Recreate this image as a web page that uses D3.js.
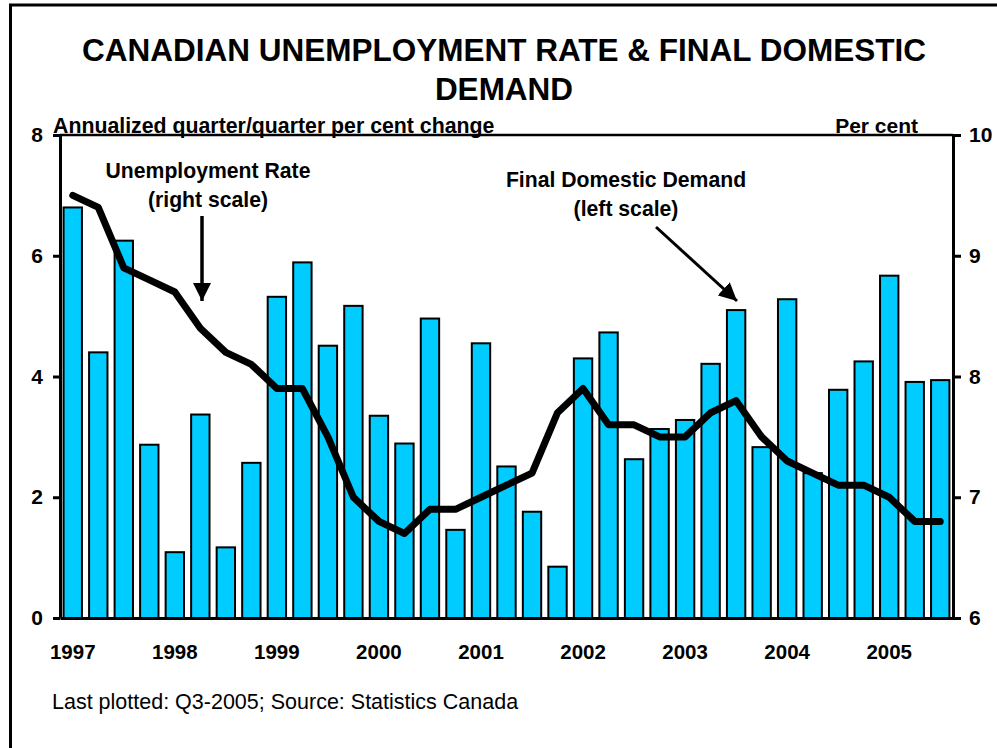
<!DOCTYPE html>
<html>
<head>
<meta charset="utf-8">
<script src="https://cdn.jsdelivr.net/npm/d3@7"></script>
<style>
  body { margin: 0; background: #fff; }
  svg { display: block; font-family: "Liberation Sans", Arial, sans-serif; }
</style>
</head>
<body>
<svg id="chart" width="997" height="748"></svg>
<script>
// Quarterly categories, Q1-1997 to Q3-2005
const quarters = [
  "1997 Q1","1997 Q2","1997 Q3","1997 Q4",
  "1998 Q1","1998 Q2","1998 Q3","1998 Q4",
  "1999 Q1","1999 Q2","1999 Q3","1999 Q4",
  "2000 Q1","2000 Q2","2000 Q3","2000 Q4",
  "2001 Q1","2001 Q2","2001 Q3","2001 Q4",
  "2002 Q1","2002 Q2","2002 Q3","2002 Q4",
  "2003 Q1","2003 Q2","2003 Q3","2003 Q4",
  "2004 Q1","2004 Q2","2004 Q3","2004 Q4",
  "2005 Q1","2005 Q2","2005 Q3"
];

// Final domestic demand, annualized q/q % change (left scale)
const domesticDemand = [
  6.80, 4.40, 6.25, 2.87,
  1.09, 3.37, 1.17, 2.57,
  5.32, 5.89, 4.51, 5.17,
  3.35, 2.89, 4.96, 1.46,
  4.55, 2.51, 1.76, 0.85,
  4.30, 4.73, 2.63, 3.13,
  3.28, 4.21, 5.10, 2.83,
  5.28, 2.40, 3.78, 4.25,
  5.67, 3.91, 3.94
];

// Unemployment rate, per cent (right scale)
const unemploymentRate = [
  9.5, 9.4, 8.9, 8.8,
  8.7, 8.4, 8.2, 8.1,
  7.9, 7.9, 7.5, 7.0,
  6.8, 6.7, 6.9, 6.9,
  7.0, 7.1, 7.2, 7.7,
  7.9, 7.6, 7.6, 7.5,
  7.5, 7.7, 7.8, 7.5,
  7.3, 7.2, 7.1, 7.1,
  7.0, 6.8, 6.8
];

const yearLabels = ["1997","1998","1999","2000","2001","2002","2003","2004","2005"];
const leftTicks = [0, 2, 4, 6, 8];
const rightTicks = [6, 7, 8, 9, 10];

const svg = d3.select("#chart");
const plot = { left: 60, right: 953, top: 135, bottom: 618 };

const x = d3.scaleBand()
  .domain(quarters)
  .range([plot.left, plot.right])
  .paddingInner(0.28)
  .paddingOuter(0.14);

const yLeft = d3.scaleLinear().domain([0, 8]).range([plot.bottom, plot.top]);
const yRight = d3.scaleLinear().domain([6, 10]).range([plot.bottom, plot.top]);

// Outer frame
svg.append("rect")
  .attr("x", 10.5).attr("y", 5)
  .attr("width", 1000).attr("height", 760)
  .attr("fill", "none").attr("stroke", "#000").attr("stroke-width", 3);

// Title
const title = svg.append("text")
  .attr("text-anchor", "middle")
  .attr("font-weight", "bold")
  .attr("font-size", 31.5);
title.append("tspan").attr("x", 504).attr("y", 61).text("CANADIAN UNEMPLOYMENT RATE & FINAL DOMESTIC");
title.append("tspan").attr("x", 504).attr("y", 100).text("DEMAND");

// Axis captions
svg.append("text")
  .attr("x", 53).attr("y", 133)
  .attr("font-weight", "bold").attr("font-size", 21.3)
  .text("Annualized quarter/quarter per cent change");
svg.append("text")
  .attr("x", 918).attr("y", 133)
  .attr("text-anchor", "end")
  .attr("font-weight", "bold").attr("font-size", 21)
  .text("Per cent");

// Bars
svg.append("g")
  .selectAll("rect")
  .data(quarters)
  .join("rect")
  .attr("x", d => x(d))
  .attr("width", x.bandwidth())
  .attr("y", (d, i) => yLeft(domesticDemand[i]))
  .attr("height", (d, i) => yLeft(0) - yLeft(domesticDemand[i]))
  .attr("fill", "#00CCFF")
  .attr("stroke", "#000")
  .attr("stroke-width", 2);

// Unemployment line
const line = d3.line()
  .x((d, i) => x(quarters[i]) + x.bandwidth() / 2)
  .y(d => yRight(d));
svg.append("path")
  .datum(unemploymentRate)
  .attr("d", line)
  .attr("fill", "none")
  .attr("stroke", "#000")
  .attr("stroke-width", 7)
  .attr("stroke-linejoin", "round")
  .attr("stroke-linecap", "round");

// Top frame line of the plot area
svg.append("line")
  .attr("x1", plot.left).attr("x2", plot.right)
  .attr("y1", plot.top).attr("y2", plot.top)
  .attr("stroke", "#000").attr("stroke-width", 2.5);

function styleAxis(g) {
  g.select(".domain").attr("stroke", "#000").attr("stroke-width", 3);
  g.selectAll(".tick line").attr("stroke", "#000").attr("stroke-width", 3);
  g.selectAll(".tick text")
    .attr("fill", "#000")
    .attr("font-family", "Liberation Sans, Arial, sans-serif")
    .attr("font-weight", "bold")
    .attr("font-size", 21);
}

// Bottom axis (baseline only, year labels added below)
svg.append("g")
  .attr("transform", `translate(0,${plot.bottom})`)
  .call(d3.axisBottom(x).tickSize(0).tickSizeOuter(0).tickFormat(""))
  .call(styleAxis);

// Year labels under each first quarter
svg.append("g")
  .selectAll("text")
  .data(yearLabels)
  .join("text")
  .attr("x", d => x(d + " Q1") + x.bandwidth() / 2)
  .attr("y", 659)
  .attr("text-anchor", "middle")
  .attr("font-weight", "bold")
  .attr("font-size", 20.5)
  .text(d => d);

// Left axis
svg.append("g")
  .attr("transform", `translate(${plot.left},0)`)
  .call(d3.axisLeft(yLeft).tickValues(leftTicks).tickSize(7).tickSizeOuter(0).tickPadding(10).tickFormat(d3.format("d")))
  .call(styleAxis);

// Right axis
svg.append("g")
  .attr("transform", `translate(${plot.right},0)`)
  .call(d3.axisRight(yRight).tickValues(rightTicks).tickSize(8).tickSizeOuter(0).tickPadding(8).tickFormat(d3.format("d")))
  .call(styleAxis);

// Annotations with arrows
const defs = svg.append("defs");
defs.append("marker")
  .attr("id", "arrowhead")
  .attr("viewBox", "0 0 18 18")
  .attr("refX", 18).attr("refY", 9)
  .attr("markerWidth", 18).attr("markerHeight", 18)
  .attr("markerUnits", "userSpaceOnUse")
  .attr("orient", "auto")
  .append("path")
  .attr("d", "M0,0 L18,9 L0,18 Z")
  .attr("fill", "#000");

const ann1 = svg.append("text")
  .attr("text-anchor", "middle")
  .attr("font-weight", "bold")
  .attr("font-size", 21.2);
ann1.append("tspan").attr("x", 208).attr("y", 178).text("Unemployment Rate");
ann1.append("tspan").attr("x", 208).attr("y", 207).text("(right scale)");

svg.append("line")
  .attr("x1", 202).attr("y1", 216)
  .attr("x2", 202).attr("y2", 301)
  .attr("stroke", "#000").attr("stroke-width", 3.5)
  .attr("marker-end", "url(#arrowhead)");

const ann2 = svg.append("text")
  .attr("text-anchor", "middle")
  .attr("font-weight", "bold")
  .attr("font-size", 21.2);
ann2.append("tspan").attr("x", 626).attr("y", 187).text("Final Domestic Demand");
ann2.append("tspan").attr("x", 626).attr("y", 216).text("(left scale)");

svg.append("line")
  .attr("x1", 656).attr("y1", 227)
  .attr("x2", 737).attr("y2", 301)
  .attr("stroke", "#000").attr("stroke-width", 3)
  .attr("marker-end", "url(#arrowhead)");

// Footnote
svg.append("text")
  .attr("x", 52).attr("y", 709)
  .attr("font-size", 21.5)
  .text("Last plotted: Q3-2005; Source: Statistics Canada");
</script>
</body>
</html>
